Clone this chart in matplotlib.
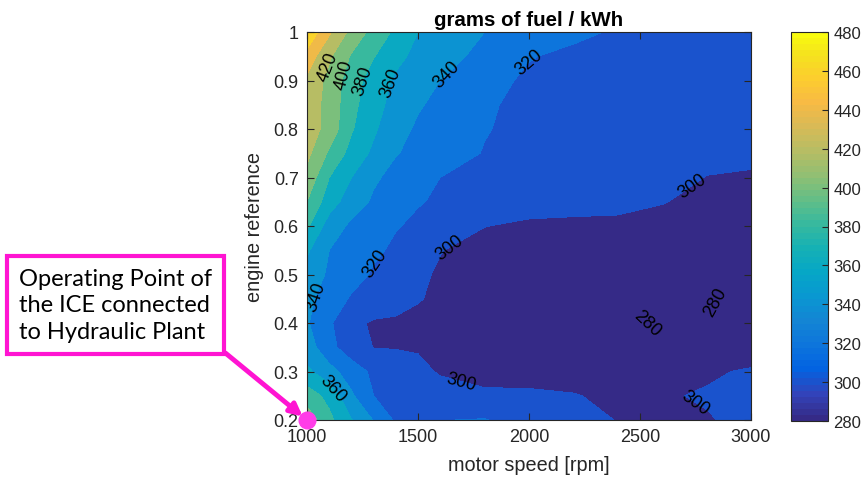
import numpy as np
import matplotlib
matplotlib.use('Agg')
import matplotlib.pyplot as plt
from matplotlib.colors import LinearSegmentedColormap, Normalize
from matplotlib.cm import ScalarMappable

# motor speed grid [rpm] and engine reference grid
speed = [1000, 1100, 1200, 1300, 1400, 1500, 1600, 1800, 2000, 2200, 2400, 2600, 2800, 3000]
ref = [0.2, 0.25, 0.3, 0.35, 0.4, 0.45, 0.5, 0.55, 0.6, 0.65, 0.7, 0.75, 0.8, 0.85, 0.9, 0.95, 1.0]

# grams of fuel / kWh, one row per engine reference (bottom to top)
bsfc = [
    [412, 385, 361, 339, 317, 316, 319.5, 321, 311, 305, 299.5, 296, 298.5, 305],
    [390, 374, 343, 320, 314, 310, 307, 303, 303, 301, 296, 298, 302, 306],
    [364, 347, 330, 316, 310, 304, 298.5, 294, 293, 292, 291, 293, 297, 302.5],
    [350, 326, 309, 299.5, 299, 298.5, 296, 293, 290, 288, 285, 283, 284, 287],
    [342, 323, 304, 298, 298, 296, 294, 291, 288, 285, 282, 279, 281, 284],
    [345, 330, 318, 311, 305, 301, 297, 292, 289, 286, 282, 277, 279, 283],
    [352, 337, 327, 318, 310, 303, 298, 293, 290, 287, 283, 279, 279, 283],
    [363, 340, 331, 323, 317, 308, 300.6, 294, 291, 290, 289, 287, 285, 285],
    [383, 351, 336, 329, 321, 317, 313, 300.3, 297.5, 297.5, 297.5, 296, 293, 291],
    [400, 369, 350, 337, 329, 321, 318, 313, 306, 304, 303, 300.5, 297, 296],
    [414, 380, 360, 343, 334, 327, 320, 315, 311, 308, 305, 303, 299.8, 299.5],
    [425, 397, 373, 356, 341, 335, 329, 319, 313, 309, 306, 304, 302, 301],
    [430, 413, 382, 363, 347, 337, 332, 321, 315, 311, 308, 305, 303, 302],
    [431, 413, 386, 367, 353, 342, 335, 322, 316, 312, 309, 306, 304, 303],
    [436, 414, 389, 371, 357, 349, 340, 326, 317, 313, 310, 307, 305, 304],
    [452, 423, 398, 381, 365, 355, 348, 334, 321, 316, 313, 310, 308, 306],
    [478, 443, 414, 393, 376, 360, 353, 340, 332, 324, 318, 314, 311, 308],
]

# operating point of the ICE on the hydraulic plant
op_speed = 1000
op_ref = 0.2

# where the contour labels sit (speed, reference)
label_pos = [(1086, 0.93), (1158, 0.913), (1248, 0.9), (1374, 0.896), (1622, 0.917),
             (1991, 0.944), (2739, 0.682), (1306, 0.524), (1653, 0.547), (1045, 0.454),
             (2523, 0.39), (2838, 0.444), (1104, 0.262), (1680, 0.258), (2757, 0.241)]

# parula-like colormap (64 steps like MATLAB)
parula_pts = [
    (0.2081, 0.1663, 0.5292), (0.1959, 0.2645, 0.7279), (0.0117, 0.3875, 0.8820),
    (0.0498, 0.4586, 0.8641), (0.0793, 0.5200, 0.8312), (0.0343, 0.5966, 0.8199),
    (0.0228, 0.6535, 0.7768), (0.0843, 0.6928, 0.7062), (0.2178, 0.7250, 0.6193),
    (0.3953, 0.7459, 0.5244), (0.5709, 0.7485, 0.4494), (0.7184, 0.7411, 0.3905),
    (0.8507, 0.7299, 0.3360), (0.9739, 0.7314, 0.2666), (0.9880, 0.8066, 0.1794),
    (0.9589, 0.8949, 0.1132), (0.9763, 0.9831, 0.0538)]
pos = [i * 4 / 63 for i in range(16)] + [1.0]
parula = LinearSegmentedColormap.from_list('parula', list(zip(pos, parula_pts)), N=64)

cmin, cmax = 280, 480
grey = '#262626'
magenta = '#ff14d2'
plt.rcParams['font.family'] = ['Liberation Sans', 'DejaVu Sans']

fig = plt.figure(figsize=(8.62, 4.81), dpi=100)
ax = fig.add_axes([307 / 862, 1 - 421 / 481, 444 / 862, 388 / 481])

X, Y = np.meshgrid(speed, ref)
Z = np.array(bsfc)
fill_levels = np.arange(260, 481, 20)
fill_cols = [parula(max(lv - cmin, 0) / (cmax - cmin)) for lv in fill_levels[:-1]]
ax.contourf(X, Y, Z, levels=fill_levels, colors=fill_cols)

cs = ax.contour(X, Y, Z, levels=np.arange(280, 481, 20), colors='k', linewidths=0)
ax.clabel(cs, manual=label_pos, fmt='%d', fontsize=13, colors='k', inline=True)

ax.set_xlim(1000, 3000)
ax.set_ylim(0.2, 1.0)
ax.set_xticks([1000, 1500, 2000, 2500, 3000])
ax.set_yticks([0.2, 0.3, 0.4, 0.5, 0.6, 0.7, 0.8, 0.9, 1.0])
ax.set_yticklabels(['0.2', '0.3', '0.4', '0.5', '0.6', '0.7', '0.8', '0.9', '1'])
ax.tick_params(direction='in', length=5, width=0.8, top=True, right=True,
               labelsize=13, colors=grey, pad=6)
for s in ax.spines.values():
    s.set_color(grey)
    s.set_linewidth(0.8)
ax.set_xlabel('motor speed [rpm]', fontsize=14.3, color=grey, labelpad=7)
ax.set_ylabel('engine reference', fontsize=14.3, color=grey, labelpad=7)
ax.set_title('grams of fuel / kWh', fontsize=14.8, fontweight='bold', color='k', pad=5)

# colorbar
cax = fig.add_axes([791 / 862, 1 - 422 / 481, 37 / 862, 389 / 481])
cb = fig.colorbar(ScalarMappable(norm=Normalize(cmin, cmax), cmap=parula), cax=cax)
cb.set_ticks(np.arange(280, 481, 20))
cb.ax.tick_params(direction='in', length=4, width=0.8, labelsize=12, colors=grey, pad=4)
cb.outline.set_edgecolor(grey)
cb.outline.set_linewidth(0.8)

# operating point marker and callout
ax.plot(op_speed, op_ref, 'o', color='#ff3ce8', markersize=12, clip_on=False, zorder=6)
ax.annotate('Operating Point of\nthe ICE connected\nto Hydraulic Plant',
            xy=(op_speed, op_ref), xycoords='data',
            xytext=(19, 175), textcoords='figure pixels',
            ha='left', va='center', fontsize=17, family='Lato', color='k',
            linespacing=1.33,
            bbox=dict(boxstyle='square,pad=0.5', fc='white', ec=magenta, lw=3),
            arrowprops=dict(arrowstyle='-|>', color=magenta, lw=3.5, mutation_scale=18,
                            relpos=(1, 0), shrinkA=0, shrinkB=4),
            annotation_clip=False, zorder=7)

fig.savefig('out.png', dpi=100)
